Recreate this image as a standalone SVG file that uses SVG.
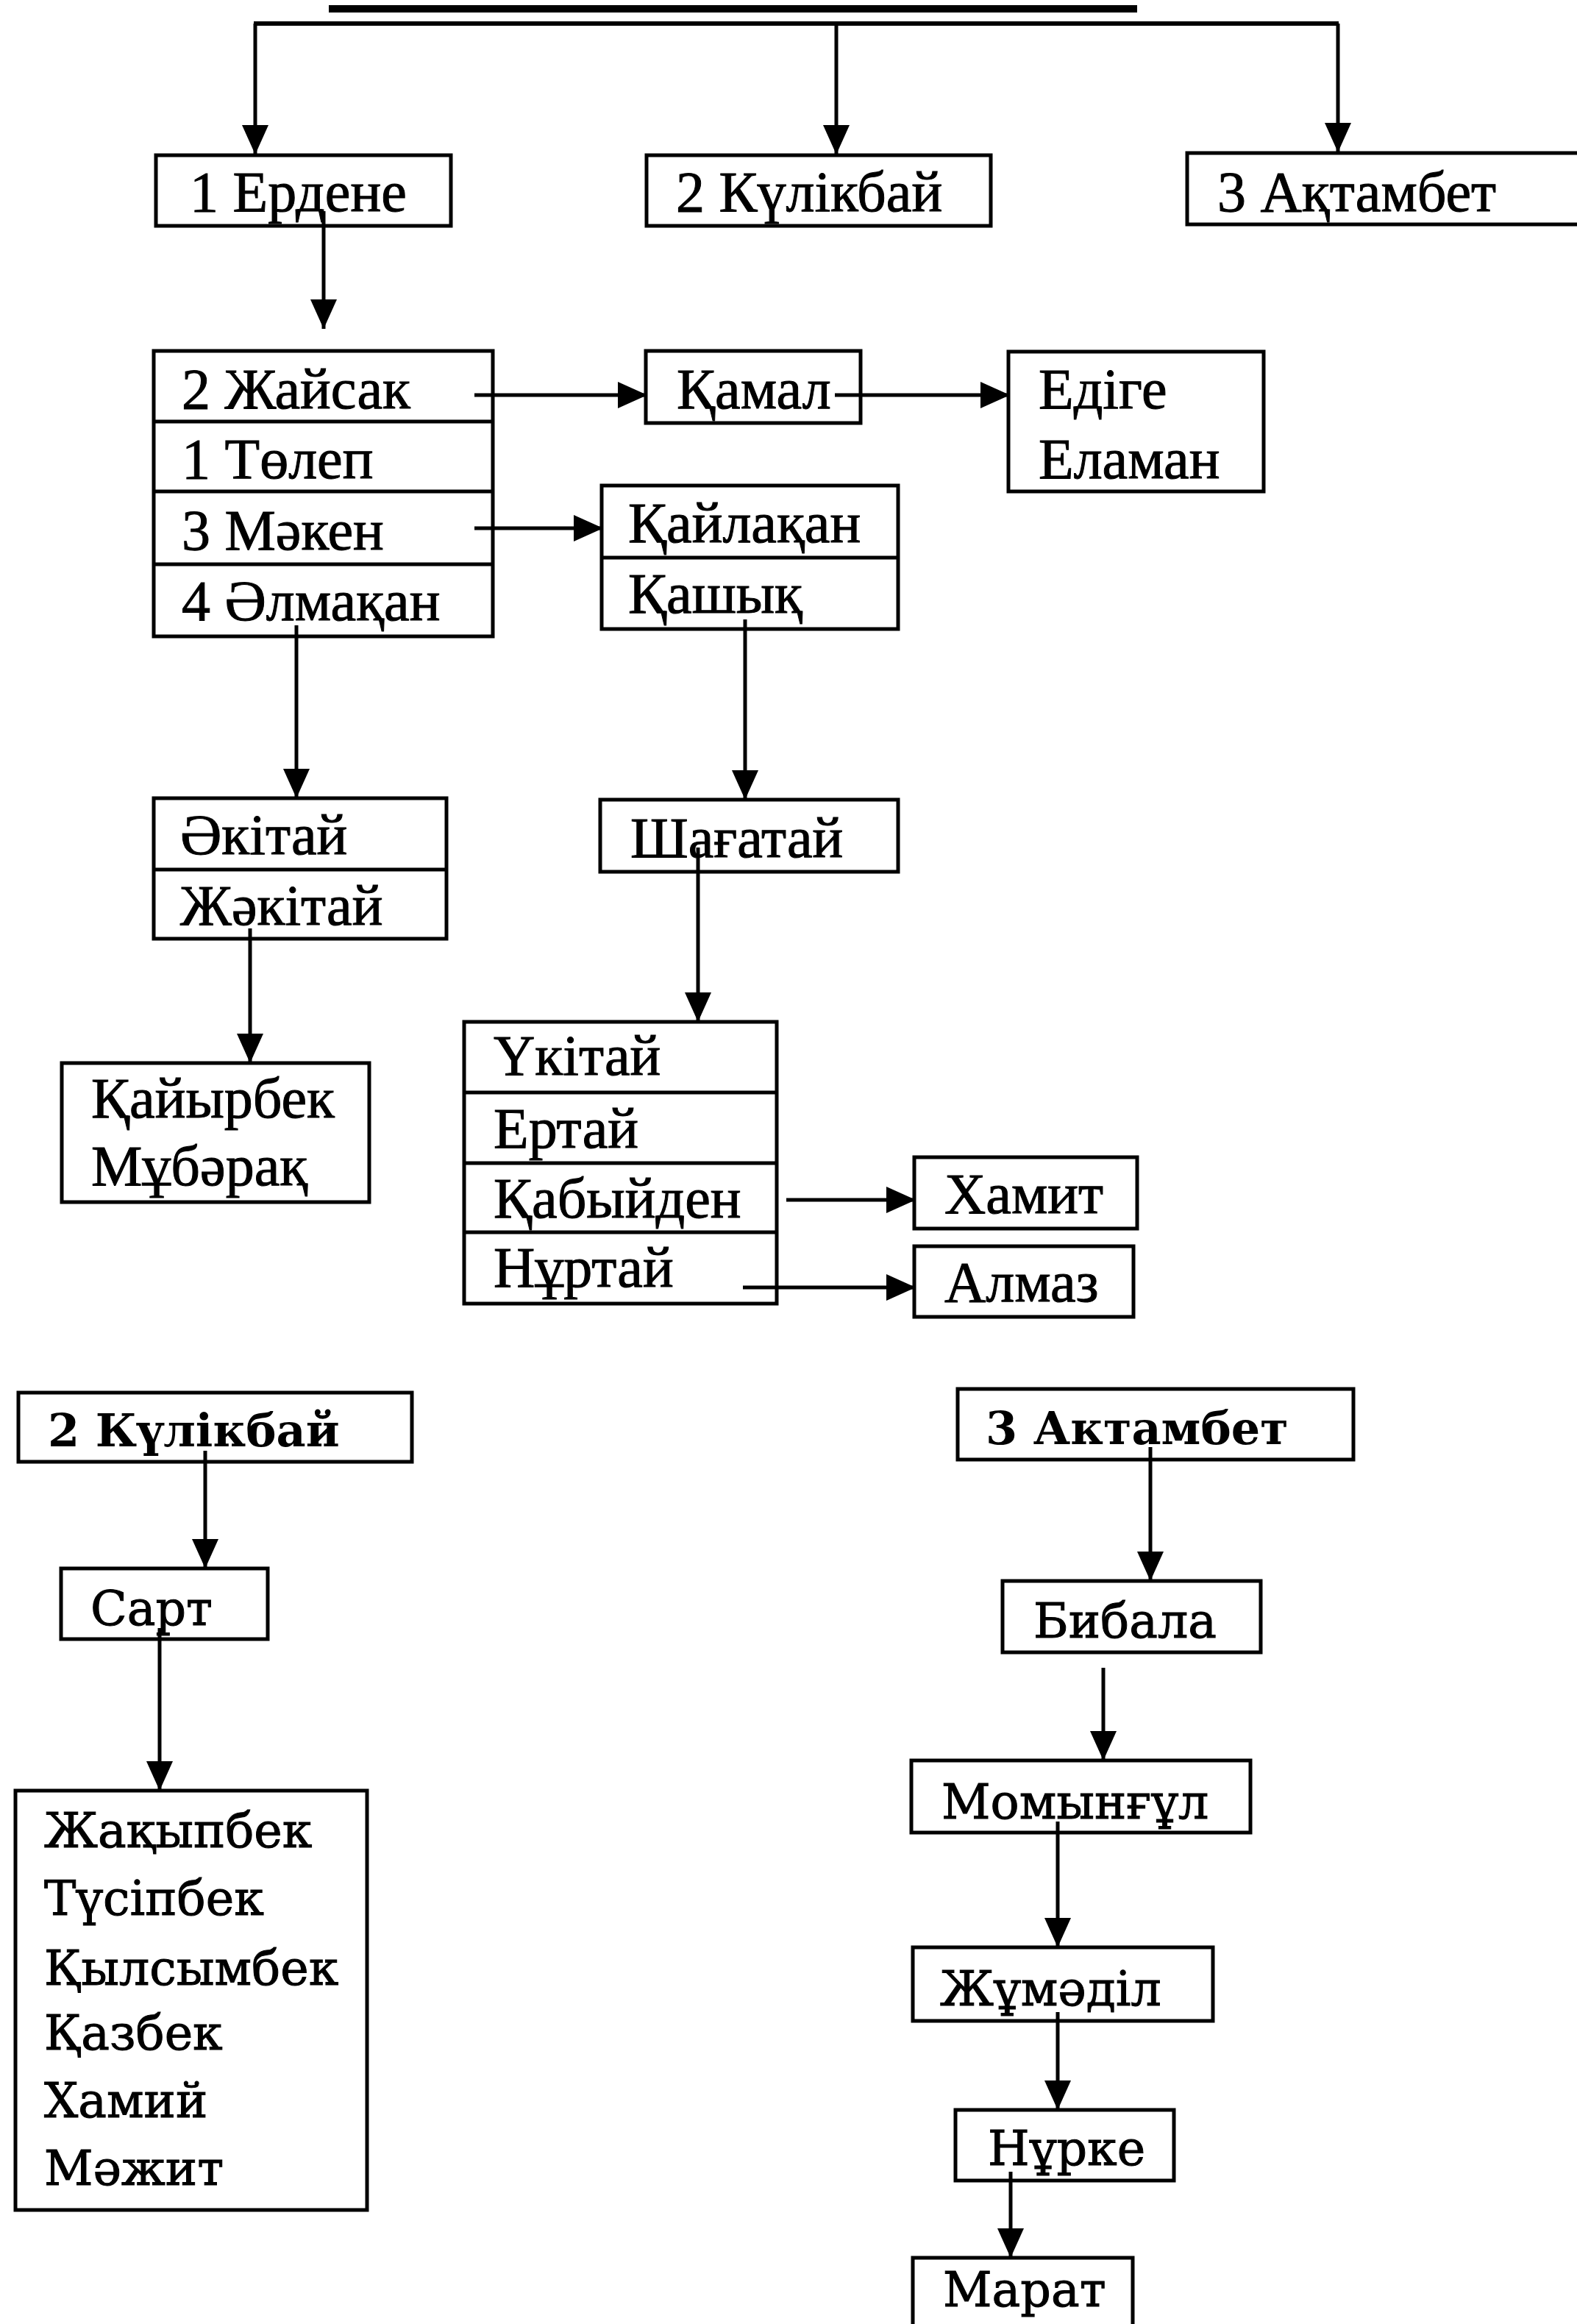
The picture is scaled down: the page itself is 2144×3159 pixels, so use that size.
<svg xmlns="http://www.w3.org/2000/svg" width="2144" height="3159" viewBox="0 0 2144 3159">
<style>
.box{fill:#fff;stroke:#000;stroke-width:5}
.div{stroke:#000;stroke-width:5}
.t{font-family:"Liberation Serif","Times New Roman",serif;font-size:78px;fill:#000;stroke:#000;stroke-width:1}
.w{font-family:"DejaVu Serif","Liberation Serif",serif;font-size:65px;fill:#000;stroke:#000;stroke-width:1}
.b{font-family:"DejaVu Serif","Liberation Serif",serif;font-size:62px;font-weight:bold;fill:#000}
.c{fill:none;stroke:#000;stroke-width:5}
</style>
<defs>
<marker id="ah" markerUnits="userSpaceOnUse" markerWidth="40" markerHeight="36" refX="40" refY="18" orient="auto">
<path d="M0,0 L40,18 L0,36 z" fill="#000"/>
</marker>
</defs>
<rect x="447" y="7" width="1099" height="10" fill="#000"/>
<g id="n-erdene"><rect class="box" x="212" y="211" width="401" height="96"/><text class="t" x="258" y="287">1 Ердене</text></g>
<g id="n-kulikbai"><rect class="box" x="879" y="211" width="468" height="96"/><text class="t" x="919" y="287">2 Күлікбай</text></g>
<g id="n-aktambet"><rect class="box" x="1614" y="208" width="560" height="97"/><text class="t" x="1655" y="287">3 Ақтамбет</text></g>
<g id="n-jaisak"><rect class="box" x="209" y="477" width="461" height="388"/><line class="div" x1="209" y1="573" x2="670" y2="573"/><line class="div" x1="209" y1="668" x2="670" y2="668"/><line class="div" x1="209" y1="767" x2="670" y2="767"/>
<text class="t" x="247" y="555">2 Жайсак</text><text class="t" x="247" y="650">1 Төлеп</text><text class="t" x="247" y="747">3 Мәкен</text><text class="t" x="247" y="843">4 Әлмақан</text></g>
<g id="n-kamal"><rect class="box" x="878" y="477" width="292" height="98"/><text class="t" x="920" y="555">Қамал</text></g>
<g id="n-edige"><rect class="box" x="1371" y="478" width="347" height="190"/><text class="t" x="1412" y="555">Едіге</text><text class="t" x="1412" y="650">Еламан</text></g>
<g id="n-kailakan"><rect class="box" x="818" y="660" width="403" height="195"/><line class="div" x1="818" y1="758" x2="1221" y2="758"/><text class="t" x="854" y="737">Қайлақан</text><text class="t" x="854" y="833">Қашық</text></g>
<g id="n-akitai"><rect class="box" x="209" y="1085" width="398" height="191"/><line class="div" x1="209" y1="1182" x2="607" y2="1182"/><text class="t" x="245" y="1161">Әкітай</text><text class="t" x="245" y="1257">Жәкітай</text></g>
<g id="n-shagatai"><rect class="box" x="816" y="1087" width="405" height="98"/><text class="t" x="857" y="1165">Шағатай</text></g>
<g id="n-kaiyrbek"><rect class="box" x="84" y="1445" width="418" height="189"/><text class="t" x="124" y="1519">Қайырбек</text><text class="t" x="124" y="1611">Мұбәрақ</text></g>
<g id="n-ukitai"><rect class="box" x="631" y="1389" width="425" height="383"/><line class="div" x1="631" y1="1485" x2="1056" y2="1485"/><line class="div" x1="631" y1="1581" x2="1056" y2="1581"/><line class="div" x1="631" y1="1675" x2="1056" y2="1675"/>
<text class="t" x="671" y="1461">Үкітай</text><text class="t" x="671" y="1560">Ертай</text><text class="t" x="671" y="1655">Қабыйден</text><text class="t" x="671" y="1749">Нұртай</text></g>
<g id="n-hamit"><rect class="box" x="1243" y="1573" width="303" height="97"/><text class="t" x="1284" y="1649">Хамит</text></g>
<g id="n-almaz"><rect class="box" x="1243" y="1694" width="298" height="96"/><text class="t" x="1284" y="1769">Алмаз</text></g>
<g id="n-kulikbai2"><rect class="box" x="25" y="1893" width="535" height="94"/><text class="b" x="65" y="1966">2 Күлікбай</text></g>
<g id="n-sart"><rect class="box" x="83" y="2132" width="281" height="96"/><text class="w" x="123" y="2209">Сарт</text></g>
<g id="n-list"><rect class="box" x="21" y="2434" width="478" height="570"/>
<text class="w" x="60" y="2511">Жақыпбек</text><text class="w" x="60" y="2603">Түсіпбек</text><text class="w" x="60" y="2698">Қылсымбек</text><text class="w" x="60" y="2786">Қазбек</text><text class="w" x="60" y="2878">Хамий</text><text class="w" x="60" y="2970">Мәжит</text></g>
<g id="n-aktambet2"><rect class="box" x="1302" y="1888" width="538" height="96"/><text class="b" x="1340" y="1963">3 Актамбет</text></g>
<g id="n-bibala"><rect class="box" x="1363" y="2149" width="351" height="97"/><text class="w" x="1405" y="2226">Бибала</text></g>
<g id="n-momyngul"><rect class="box" x="1239" y="2393" width="461" height="98"/><text class="w" x="1280" y="2472">Момынғұл</text></g>
<g id="n-jumadil"><rect class="box" x="1241" y="2647" width="408" height="100"/><text class="w" x="1278" y="2726">Жұмәділ</text></g>
<g id="n-nurke"><rect class="box" x="1299" y="2868" width="297" height="96"/><text class="w" x="1343" y="2943">Нұрке</text></g>
<g id="n-marat"><rect class="box" x="1241" y="3069" width="299" height="100"/><text class="w" x="1282" y="3135">Марат</text></g>
<g id="connectors">
<path d="M345,32 H1820" fill="none" stroke="#000" stroke-width="6"/>
<path class="c" d="M347,32 V210" marker-end="url(#ah)"/>
<path class="c" d="M1137,32 V210" marker-end="url(#ah)"/>
<path class="c" d="M1819,32 V207" marker-end="url(#ah)"/>
<path class="c" d="M440,287 V447" marker-end="url(#ah)"/>
<path class="c" d="M645,537 H880" marker-end="url(#ah)"/>
<path class="c" d="M1135,537 H1373" marker-end="url(#ah)"/>
<path class="c" d="M645,718 H820" marker-end="url(#ah)"/>
<path class="c" d="M403,850 V1085" marker-end="url(#ah)"/>
<path class="c" d="M1013,842 V1087" marker-end="url(#ah)"/>
<path class="c" d="M949,1152 V1389" marker-end="url(#ah)"/>
<path class="c" d="M340,1262 V1445" marker-end="url(#ah)"/>
<path class="c" d="M1069,1631 H1245" marker-end="url(#ah)"/>
<path class="c" d="M1010,1750 H1245" marker-end="url(#ah)"/>
<path class="c" d="M279,1972 V2132" marker-end="url(#ah)"/>
<path class="c" d="M217,2213 V2434" marker-end="url(#ah)"/>
<path class="c" d="M1564,1967 V2149" marker-end="url(#ah)"/>
<path class="c" d="M1500,2267 V2393" marker-end="url(#ah)"/>
<path class="c" d="M1438,2476 V2647" marker-end="url(#ah)"/>
<path class="c" d="M1438,2735 V2868" marker-end="url(#ah)"/>
<path class="c" d="M1374,2952 V3069" marker-end="url(#ah)"/>
</g>
</svg>
